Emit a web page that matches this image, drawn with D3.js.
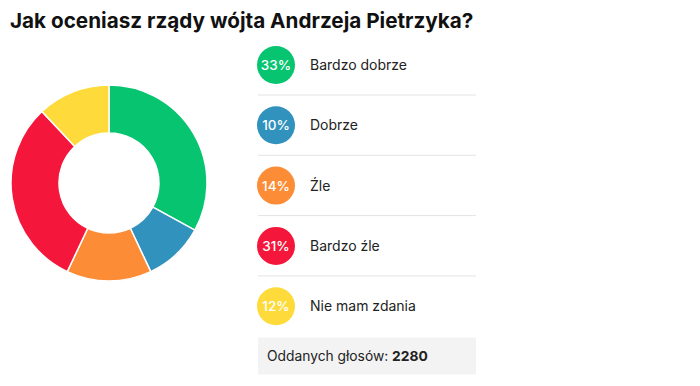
<!DOCTYPE html>
<html>
<head>
<meta charset="utf-8">
<script src="https://cdn.jsdelivr.net/npm/d3@7"></script>
<style>
  body { margin: 0; background: #fff; }
  svg { display: block; font-family: Inter, "Noto Sans", sans-serif; }
</style>
</head>
<body>
<svg id="chart" width="700" height="386"></svg>
<script>
const title = "Jak oceniasz rządy wójta Andrzeja Pietrzyka?";
const categories = ["Bardzo dobrze", "Dobrze", "Źle", "Bardzo źle", "Nie mam zdania"];
const percents = [33, 10, 14, 31, 12];
const colors = ["#06c46f", "#3192bd", "#fc8c36", "#f4173b", "#fedb3b"];
const totalVotes = 2280;

const svg = d3.select("#chart");

svg.append("text")
    .attr("x", 10)
    .attr("y", 28)
    .style("font-size", "20.7px")
    .style("font-weight", 700)
    .attr("fill", "#111")
    .text(title);

// donut
const pie = d3.pie().sort(null).value(d => d);
const arc = d3.arc().innerRadius(50).outerRadius(98);

svg.append("g")
    .attr("transform", "translate(109,183)")
    .selectAll("path")
    .data(pie(percents))
    .join("path")
    .attr("d", arc)
    .attr("fill", (d, i) => colors[i])
    .attr("stroke", "#fff")
    .attr("stroke-width", 1.5);

// legend
const rowY = d3.scaleLinear().domain([0, 1]).range([35, 95.3]);
const legendX = 258, legendW = 218;

const rows = svg.append("g")
    .selectAll("g")
    .data(categories)
    .join("g")
    .attr("transform", (d, i) => `translate(${legendX},${rowY(i)})`);

rows.append("circle")
    .attr("cx", 18)
    .attr("cy", 30)
    .attr("r", 19)
    .attr("fill", (d, i) => colors[i]);

rows.append("text")
    .attr("x", 18)
    .attr("y", 35)
    .attr("text-anchor", "middle")
    .attr("fill", "#fff")
    .style("font-size", "13.5px")
    .style("font-weight", 500)
    .text((d, i) => percents[i] + "%");

rows.append("text")
    .attr("x", 52)
    .attr("y", 35)
    .attr("fill", "#222")
    .style("font-size", "14px")
    .text(d => d);

rows.filter((d, i) => i < categories.length - 1)
    .append("line")
    .attr("x1", 0)
    .attr("x2", legendW)
    .attr("y1", 60)
    .attr("y2", 60)
    .attr("stroke", "#e4e4e4")
    .attr("stroke-width", 1);

// footer
const footY = rowY(categories.length);
svg.append("rect")
    .attr("x", legendX)
    .attr("y", footY + 1)
    .attr("width", legendW)
    .attr("height", 37)
    .attr("fill", "#f3f3f3");

const foot = svg.append("text")
    .attr("x", 267)
    .attr("y", footY + 24)
    .attr("fill", "#222")
    .style("font-size", "13.8px");
foot.append("tspan").text("Oddanych głosów: ");
foot.append("tspan").style("font-weight", 700).text(totalVotes);
</script>
</body>
</html>
